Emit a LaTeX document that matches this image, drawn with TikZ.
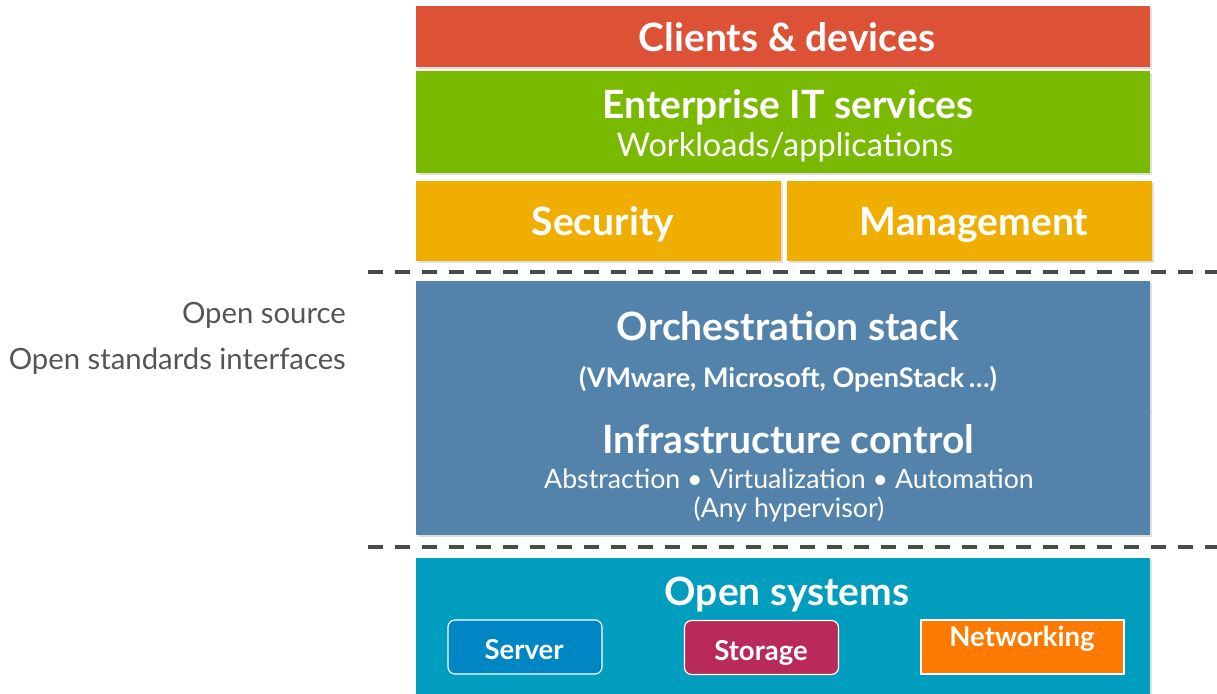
\documentclass[tikz,border=0pt]{standalone}
\usepackage{fontspec}
\setmainfont{Lato}
\usetikzlibrary{shadows}

\definecolor{clientred}{HTML}{DD5236}
\definecolor{entgreen}{HTML}{79B900}
\definecolor{secorange}{HTML}{F0AE00}
\definecolor{orchblue}{HTML}{5383AB}
\definecolor{systeal}{HTML}{009DBE}
\definecolor{serverblue}{HTML}{0086C4}
\definecolor{storagered}{HTML}{B9295A}
\definecolor{netorange}{HTML}{FF7A00}
\definecolor{dashgray}{HTML}{4A4A4A}
\definecolor{sidegray}{HTML}{555555}

\begin{document}
\begin{tikzpicture}[x = 1pt, y = -1pt,
	layer/.style = {rectangle, inner sep = 0pt, drop shadow = {opacity = 0.25, shadow xshift = 2pt, shadow yshift = -2pt}},
	hwbox/.style = {rectangle, draw = white, line width = 1.2pt, inner sep = 0pt, minimum width = 154pt, minimum height = 54pt},
	title/.style = {anchor = base, inner sep = 0pt, text = white, font = \fontsize{39}{44}\selectfont\bfseries},
	subtitle/.style = {anchor = base, inner sep = 0pt, text = white, font = \fontsize{32.5}{38}\selectfont},
	small/.style = {anchor = base, inner sep = 0pt, text = white, font = \fontsize{27.5}{32}\selectfont\bfseries},
	side/.style = {anchor = base east, inner sep = 0pt, text = sidegray, font = \fontsize{29.3}{34}\selectfont},
	sep/.style = {line width = 3.5pt, color = dashgray, dash pattern = on 15pt off 12pt}]
	\useasboundingbox (0,0) rectangle (1217,693);
	
	% layers
	\node[layer, fill = clientred, minimum width = 734pt, minimum height = 61pt] (clients) at (783,36.5) {};
	\node[layer, fill = entgreen, minimum width = 734pt, minimum height = 102pt] (enterprise) at (783,122) {};
	\node[layer, fill = secorange, minimum width = 365pt, minimum height = 80pt] (security) at (598.5,221) {};
	\node[layer, fill = secorange, minimum width = 365pt, minimum height = 80pt] (management) at (969.5,221) {};
	\node[layer, fill = orchblue, minimum width = 734pt, minimum height = 130pt] (orch) at (783,346) {};
	\node[layer, fill = orchblue, minimum width = 734pt, minimum height = 125pt] (infra) at (783,472.5) {};
	\node[layer, fill = systeal, minimum width = 734pt, minimum height = 140pt] (systems) at (783,628) {};
	
	% hardware
	\node[hwbox, fill = serverblue, rounded corners = 7pt] (server) at (525,647) {};
	\node[hwbox, fill = storagered, rounded corners = 7pt] (storage) at (761.5,647.5) {};
	\node[hwbox, fill = netorange, minimum width = 203pt] (networking) at (1022.5,647) {};
	
	% texts
	\node[title] (clientsT) at (787,52) {Clients \& devices};
	\node[title] (enterpriseT) at (788,118) {Enterprise IT services};
	\node[subtitle] (enterpriseS) at (785,156) {Workloads/applications};
	\node[title] (securityT) at (603,235) {Security};
	\node[title] (managementT) at (974,235) {Management};
	\node[title] (orchT) at (788,340) {Orchestration stack};
	\node[small, font = \fontsize{27}{32}\selectfont\bfseries] (orchS) at (788,387) {(VMware, Microsoft, OpenStack\,…)};
	\node[title] (infraT) at (788,453) {Infrastructure control};
	\node[subtitle, font = \fontsize{26.7}{32}\selectfont] (infraS) at (789,488) {Abstraction • Virtualization • Automation};
	\node[subtitle, font = \fontsize{26.7}{32}\selectfont] (infraH) at (789,517) {(Any hypervisor)};
	\node[title] (systemsT) at (787,605) {Open systems};
	\node[small] (serverT) at (524,659) {Server};
	\node[small] (storageT) at (761,660) {Storage};
	\node[small] (networkingT) at (1022,646) {Networking};
	
	% side notes
	\node[side] (source) at (346,323) {Open source};
	\node[side] (standards) at (346,369) {Open standards interfaces};
	
	% separators
	\draw[sep] (368,272) -- (1217,272);
	\draw[sep] (368,547) -- (1217,547);
	
\end{tikzpicture}
\end{document}
